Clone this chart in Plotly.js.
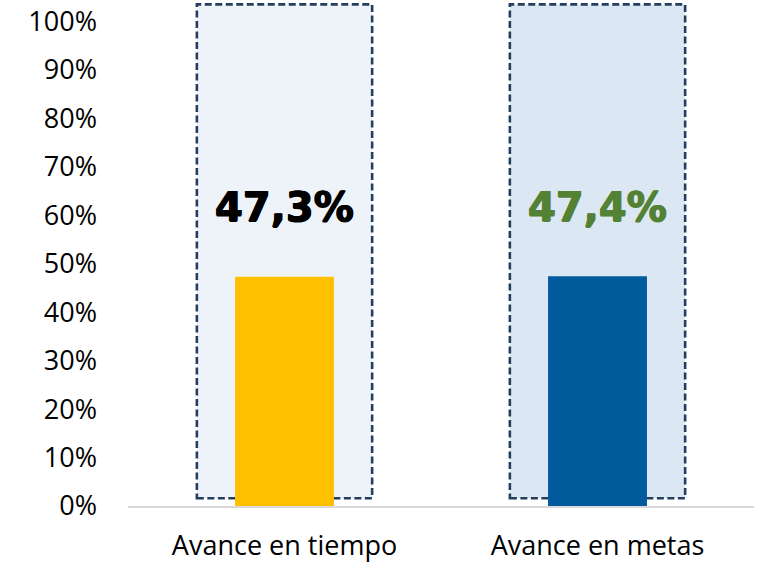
<!DOCTYPE html>
<html>
<head>
<meta charset="utf-8">
<script src="https://cdn.plot.ly/plotly-3.0.1.min.js"></script>
<style>html,body{margin:0;padding:0;background:#fff;}#chart{width:764px;height:564px;}</style>
</head>
<body>
<div id="chart"></div>
<script>
// Data
const categories = ["Avance en tiempo", "Avance en metas"];
const values = [47.3, 47.4];
const labelTexts = ["47,3%", "47,4%"];
const barColors = ["#FFC000", "#005A9C"];
const labelColors = ["#000000", "#548235"];
const bgTop = [103.5, 103.5];
const bgBase = [1.6, 1.6];
const bgFills = ["#EEF3FA", "#DCE7F4"];
const labelY = [61.7, 61.7];
const yTicks = [0,10,20,30,40,50,60,70,80,90,100];
const yTickText = yTicks.map(v => v + "%");

const idx = categories.map((c, i) => i);
const bgHalf = 0.28;

const traces = [
  {
    type: "bar",
    x: idx,
    y: values,
    width: 0.316,
    marker: { color: barColors, line: { width: 0 } },
    hoverinfo: "skip",
    showlegend: false
  }
];

const shapes = idx.map(i => ({
  type: "rect",
  xref: "x", yref: "y",
  x0: i - bgHalf, x1: i + bgHalf,
  y0: bgBase[i], y1: bgTop[i],
  fillcolor: bgFills[i],
  line: { color: "#243F5E", width: 2.6, dash: "7px,3.5px" },
  layer: "below"
}));

const annotations = idx.map(i => ({
  x: i, y: labelY[i], xref: "x", yref: "y",
  text: "<b>" + labelTexts[i] + "</b>",
  showarrow: false,
  font: {
    family: "DejaVu Sans", size: 40, color: labelColors[i],
    shadow: "0.7px 0 0 " + labelColors[i] + ", -0.7px 0 0 " + labelColors[i] + ", 0 0.6px 0 " + labelColors[i]
  }
}));

const layout = {
  width: 764, height: 564,
  margin: { l: 128, r: 10, t: 2, b: 58 },
  paper_bgcolor: "#ffffff",
  plot_bgcolor: "rgba(0,0,0,0)",
  barmode: "overlay",
  xaxis: {
    range: [-0.5, 1.5],
    tickvals: idx,
    ticktext: categories,
    showgrid: false, zeroline: false,
    showline: true, linecolor: "#D9D9D9", linewidth: 1.5,
    ticks: "",
    ticklabelstandoff: 15,
    tickfont: { family: "Open Sans", size: 27, color: "#000" }
  },
  yaxis: {
    range: [0, 104],
    tickvals: yTicks,
    ticktext: yTickText,
    showgrid: false, zeroline: false, showline: false,
    ticks: "",
    ticklabelstandoff: 30,
    tickfont: { family: "Open Sans", size: 27, color: "#000" }
  },
  shapes: shapes,
  annotations: annotations
};

Plotly.newPlot("chart", traces, layout, { displayModeBar: false, staticPlot: true });
</script>
</body>
</html>
